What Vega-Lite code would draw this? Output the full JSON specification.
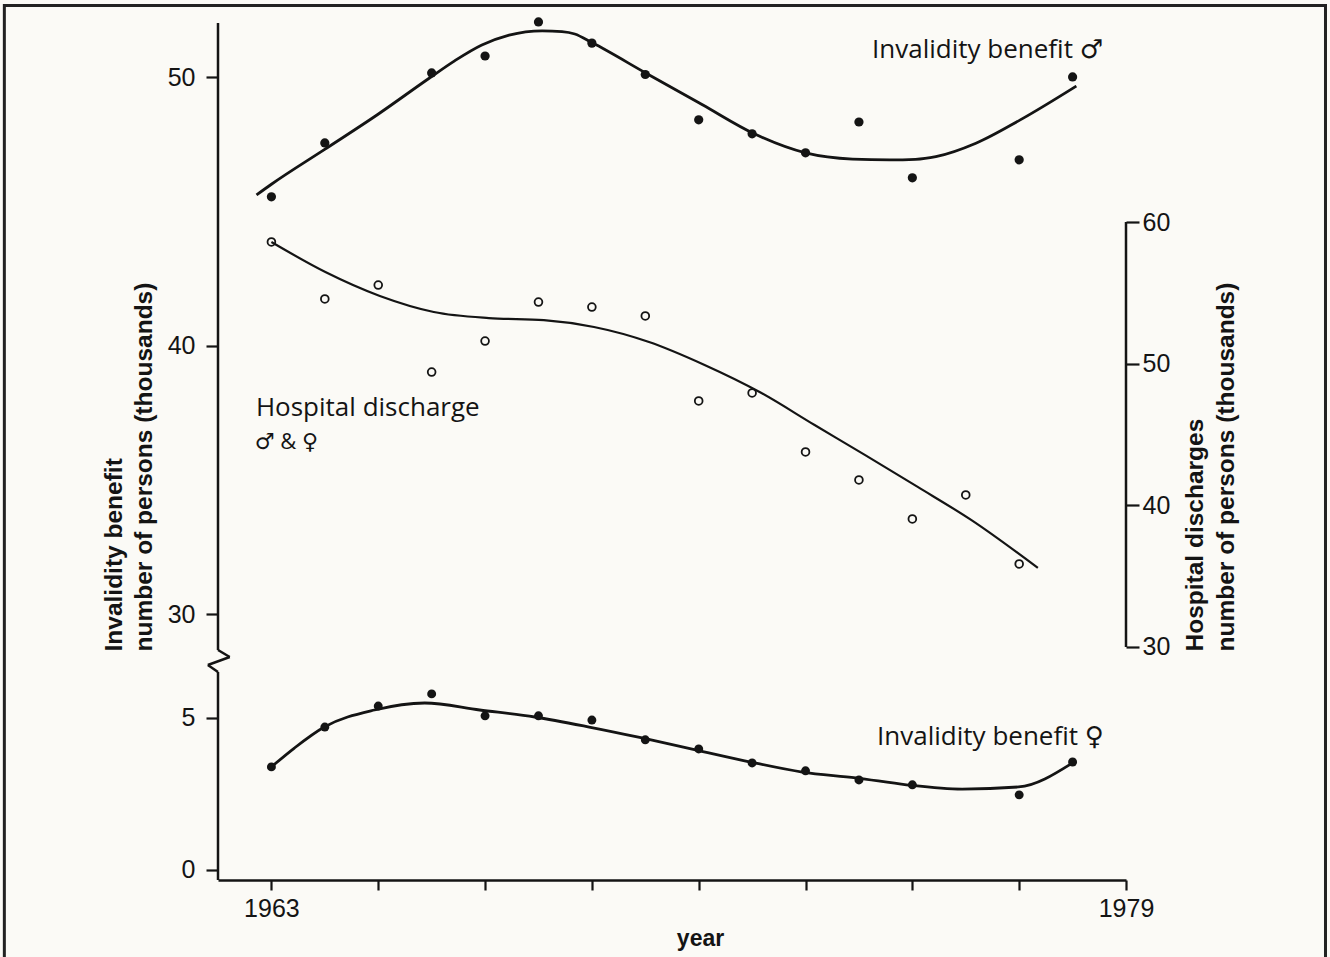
{
  "$schema": "https://vega.github.io/schema/vega-lite/v6.json",
  "width": 908,
  "height": 857,
  "autosize": {"type": "none"},
  "padding": {"left": 218, "top": 23, "right": 204, "bottom": 77},
  "background": "#fbfaf6",
  "config": {
    "view": {"stroke": null},
    "font": "Liberation Sans",
    "axis": {
      "grid": false,
      "domainColor": "#141414",
      "tickColor": "#141414",
      "labelColor": "#141414",
      "titleColor": "#141414",
      "labelFont": "Liberation Sans",
      "titleFont": "Liberation Sans",
      "labelFontSize": 25,
      "titleFontSize": 24.5,
      "titleFontWeight": "bold",
      "domainWidth": 2.5,
      "tickWidth": 2.2
    }
  },
  "datasets": {
    "male_pts": [
      {"year": 1963, "value": 45.55}, {"year": 1964, "value": 47.56}, {"year": 1966, "value": 50.17},
      {"year": 1967, "value": 50.80}, {"year": 1968, "value": 52.07}, {"year": 1969, "value": 51.28},
      {"year": 1970, "value": 50.11}, {"year": 1971, "value": 48.42}, {"year": 1972, "value": 47.90},
      {"year": 1973, "value": 47.19}, {"year": 1974, "value": 48.34}, {"year": 1975, "value": 46.26},
      {"year": 1977, "value": 46.93}, {"year": 1978, "value": 50.02}
    ],
    "male_curve": [
      {"year": 1962.72, "value": 45.62}, {"year": 1963.0, "value": 46.02}, {"year": 1963.99, "value": 47.31},
      {"year": 1964.99, "value": 48.62}, {"year": 1965.96, "value": 49.98}, {"year": 1966.43, "value": 50.62},
      {"year": 1966.94, "value": 51.21}, {"year": 1967.45, "value": 51.58}, {"year": 1968.07, "value": 51.74},
      {"year": 1968.44, "value": 51.71}, {"year": 1968.68, "value": 51.62}, {"year": 1969.0, "value": 51.30},
      {"year": 1970.04, "value": 50.13}, {"year": 1971.07, "value": 48.98}, {"year": 1972.04, "value": 47.90},
      {"year": 1973.0, "value": 47.19}, {"year": 1973.88, "value": 46.96}, {"year": 1974.58, "value": 46.93},
      {"year": 1975.06, "value": 46.95}, {"year": 1975.44, "value": 47.05}, {"year": 1976.19, "value": 47.55},
      {"year": 1977.02, "value": 48.42}, {"year": 1978.07, "value": 49.68}
    ],
    "female_pts": [
      {"year": 1963, "value": 3.39}, {"year": 1964, "value": 4.70}, {"year": 1965, "value": 5.39},
      {"year": 1966, "value": 5.79}, {"year": 1967, "value": 5.07}, {"year": 1968, "value": 5.07},
      {"year": 1969, "value": 4.93}, {"year": 1970, "value": 4.28}, {"year": 1971, "value": 3.98},
      {"year": 1972, "value": 3.52}, {"year": 1973, "value": 3.26}, {"year": 1974, "value": 2.96},
      {"year": 1975, "value": 2.80}, {"year": 1977, "value": 2.47}, {"year": 1978, "value": 3.55}
    ],
    "female_curve": [
      {"year": 1963.0, "value": 3.39}, {"year": 1963.43, "value": 4.01}, {"year": 1963.99, "value": 4.70},
      {"year": 1964.93, "value": 5.26}, {"year": 1965.87, "value": 5.49}, {"year": 1966.90, "value": 5.26},
      {"year": 1967.93, "value": 5.03}, {"year": 1968.95, "value": 4.70}, {"year": 1969.94, "value": 4.34},
      {"year": 1970.94, "value": 3.95}, {"year": 1971.97, "value": 3.55}, {"year": 1972.94, "value": 3.22},
      {"year": 1973.94, "value": 3.03}, {"year": 1974.89, "value": 2.80}, {"year": 1975.93, "value": 2.66},
      {"year": 1976.99, "value": 2.73}, {"year": 1977.97, "value": 3.49}
    ],
    "hosp_pts": [
      {"year": 1963, "value": 58.59}, {"year": 1964, "value": 54.57}, {"year": 1965, "value": 55.55},
      {"year": 1966, "value": 49.41}, {"year": 1967, "value": 51.60}, {"year": 1968, "value": 54.35},
      {"year": 1969, "value": 54.0}, {"year": 1970, "value": 53.37}, {"year": 1971, "value": 47.37},
      {"year": 1972, "value": 47.93}, {"year": 1973, "value": 43.77}, {"year": 1974, "value": 41.79},
      {"year": 1975, "value": 39.04}, {"year": 1976, "value": 40.73}, {"year": 1977, "value": 35.86}
    ],
    "hosp_curve": [
      {"year": 1963.0, "value": 58.59}, {"year": 1964.01, "value": 56.47}, {"year": 1965.03, "value": 54.78},
      {"year": 1966.04, "value": 53.65}, {"year": 1967.07, "value": 53.22}, {"year": 1968.10, "value": 53.08},
      {"year": 1969.04, "value": 52.59}, {"year": 1970.07, "value": 51.53}, {"year": 1971.11, "value": 49.91},
      {"year": 1972.14, "value": 48.0}, {"year": 1973.17, "value": 45.67}, {"year": 1974.11, "value": 43.56},
      {"year": 1975.10, "value": 41.3}, {"year": 1976.10, "value": 38.97}, {"year": 1977.35, "value": 35.58}
    ]
  },
  "resolve": {"scale": {"y": "independent"}},
  "layer": [
    {
      "layer": [
        {
          "data": {"name": "male_curve"},
          "mark": {"type": "line", "interpolate": "monotone", "color": "#141414", "strokeWidth": 2.8},
          "encoding": {
            "x": {"field": "year", "type": "quantitative",
              "scale": {"domain": [1962, 1979], "nice": false, "zero": false},
              "axis": {"orient": "bottom", "values": [1963, 1965, 1967, 1969, 1971, 1973, 1975, 1977, 1979], "format": "d",
                "labelExpr": "datum.value == 1963 || datum.value == 1979 ? datum.label : ''",
                "tickSize": 10, "labelPadding": 6, "labelFlush": false, "labelOverlap": false,
                "title": "year", "titleX": 482, "titleY": 65, "titleAlign": "center", "titleBaseline": "alphabetic", "titleFontSize": 23}},
            "y": {"field": "value", "type": "quantitative",
              "scale": {"domain": [-0.33, 6.51, 28.66, 52.03], "range": [857, 649, 627, 0], "nice": false, "zero": false},
              "axis": {"orient": "left", "values": [0, 5, 30, 40, 50], "domain": false, "tickSize": 12, "labelPadding": 11, "labelOverlap": false,
                "title": ["Invalidity benefit", "number of persons (thousands)"],
                "titleAngle": 270, "titleAlign": "left", "titleBaseline": "alphabetic", "titleX": -97, "titleY": 628, "titleLineHeight": 30}}
          }
        },
        {
          "data": {"name": "male_pts"},
          "mark": {"type": "point", "filled": true, "color": "#141414", "size": 85, "opacity": 1},
          "encoding": {
            "x": {"field": "year", "type": "quantitative", "scale": {"domain": [1962, 1979], "nice": false, "zero": false}},
            "y": {"field": "value", "type": "quantitative", "scale": {"domain": [-0.33, 6.51, 28.66, 52.03], "range": [857, 649, 627, 0], "nice": false, "zero": false}}
          }
        },
        {
          "data": {"name": "female_curve"},
          "mark": {"type": "line", "interpolate": "monotone", "color": "#141414", "strokeWidth": 2.8},
          "encoding": {
            "x": {"field": "year", "type": "quantitative", "scale": {"domain": [1962, 1979], "nice": false, "zero": false}},
            "y": {"field": "value", "type": "quantitative", "scale": {"domain": [-0.33, 6.51, 28.66, 52.03], "range": [857, 649, 627, 0], "nice": false, "zero": false}}
          }
        },
        {
          "data": {"name": "female_pts"},
          "mark": {"type": "point", "filled": true, "color": "#141414", "size": 80, "opacity": 1},
          "encoding": {
            "x": {"field": "year", "type": "quantitative", "scale": {"domain": [1962, 1979], "nice": false, "zero": false}},
            "y": {"field": "value", "type": "quantitative", "scale": {"domain": [-0.33, 6.51, 28.66, 52.03], "range": [857, 649, 627, 0], "nice": false, "zero": false}}
          }
        },
        {
          "data": {"values": [{}]},
          "mark": {"type": "rule", "color": "#141414", "strokeWidth": 2.5},
          "encoding": {
            "x": {"datum": 1962, "type": "quantitative", "scale": {"domain": [1962, 1979], "nice": false, "zero": false}},
            "y": {"datum": 28.66, "type": "quantitative", "scale": {"domain": [-0.33, 6.51, 28.66, 52.03], "range": [857, 649, 627, 0], "nice": false, "zero": false}},
            "y2": {"datum": 52.03}
          }
        },
        {
          "data": {"values": [{}]},
          "mark": {"type": "rule", "color": "#141414", "strokeWidth": 2.5},
          "encoding": {
            "x": {"datum": 1962, "type": "quantitative", "scale": {"domain": [1962, 1979], "nice": false, "zero": false}},
            "y": {"datum": -0.33, "type": "quantitative", "scale": {"domain": [-0.33, 6.51, 28.66, 52.03], "range": [857, 649, 627, 0], "nice": false, "zero": false}},
            "y2": {"datum": 6.51}
          }
        },
        {
          "data": {"values": [{}]},
          "mark": {"type": "rule", "color": "#141414", "strokeWidth": 2.5},
          "encoding": {
            "x": {"datum": 1962, "type": "quantitative", "scale": {"domain": [1962, 1979], "nice": false, "zero": false}},
            "x2": {"datum": 1962.22},
            "y": {"datum": 28.66, "type": "quantitative", "scale": {"domain": [-0.33, 6.51, 28.66, 52.03], "range": [857, 649, 627, 0], "nice": false, "zero": false}},
            "y2": {"datum": 21.61}
          }
        },
        {
          "data": {"values": [{}]},
          "mark": {"type": "rule", "color": "#141414", "strokeWidth": 2.5},
          "encoding": {
            "x": {"datum": 1962.22, "type": "quantitative", "scale": {"domain": [1962, 1979], "nice": false, "zero": false}},
            "x2": {"datum": 1961.81},
            "y": {"datum": 21.61, "type": "quantitative", "scale": {"domain": [-0.33, 6.51, 28.66, 52.03], "range": [857, 649, 627, 0], "nice": false, "zero": false}},
            "y2": {"datum": 13.56}
          }
        },
        {
          "data": {"values": [{}]},
          "mark": {"type": "rule", "color": "#141414", "strokeWidth": 2.5},
          "encoding": {
            "x": {"datum": 1961.81, "type": "quantitative", "scale": {"domain": [1962, 1979], "nice": false, "zero": false}},
            "x2": {"datum": 1962},
            "y": {"datum": 13.56, "type": "quantitative", "scale": {"domain": [-0.33, 6.51, 28.66, 52.03], "range": [857, 649, 627, 0], "nice": false, "zero": false}},
            "y2": {"datum": 6.51}
          }
        },
        {
          "data": {"values": [{}]},
          "mark": {"type": "rect", "fill": null, "stroke": "#222222", "strokeWidth": 3},
          "encoding": {
            "x": {"datum": 1958.0, "type": "quantitative", "scale": {"domain": [1962, 1979], "nice": false, "zero": false}},
            "x2": {"datum": 1982.735},
            "y": {"datum": 52.68, "type": "quantitative", "scale": {"domain": [-0.33, 6.51, 28.66, 52.03], "range": [857, 649, 627, 0], "nice": false, "zero": false}},
            "y2": {"datum": -3.5}
          }
        },
        {
          "data": {"values": [{}]},
          "mark": {"type": "text", "align": "left", "baseline": "alphabetic", "font": "Open Sans, DejaVu Sans", "fontSize": 26, "color": "#141414"},
          "encoding": {
            "x": {"datum": 1974.245, "type": "quantitative", "scale": {"domain": [1962, 1979], "nice": false, "zero": false}},
            "y": {"datum": 50.73, "type": "quantitative", "scale": {"domain": [-0.33, 6.51, 28.66, 52.03], "range": [857, 649, 627, 0], "nice": false, "zero": false}},
            "text": {"value": "Invalidity benefit ♂"}
          }
        },
        {
          "data": {"values": [{}]},
          "mark": {"type": "text", "align": "left", "baseline": "alphabetic", "font": "Open Sans, DejaVu Sans", "fontSize": 26, "color": "#141414"},
          "encoding": {
            "x": {"datum": 1962.71, "type": "quantitative", "scale": {"domain": [1962, 1979], "nice": false, "zero": false}},
            "y": {"datum": 37.39, "type": "quantitative", "scale": {"domain": [-0.33, 6.51, 28.66, 52.03], "range": [857, 649, 627, 0], "nice": false, "zero": false}},
            "text": {"value": "Hospital discharge"}
          }
        },
        {
          "data": {"values": [{}]},
          "mark": {"type": "text", "align": "left", "baseline": "alphabetic", "font": "Open Sans, DejaVu Sans", "fontSize": 22, "color": "#141414"},
          "encoding": {
            "x": {"datum": 1962.69, "type": "quantitative", "scale": {"domain": [1962, 1979], "nice": false, "zero": false}},
            "y": {"datum": 36.17, "type": "quantitative", "scale": {"domain": [-0.33, 6.51, 28.66, 52.03], "range": [857, 649, 627, 0], "nice": false, "zero": false}},
            "text": {"value": "♂ & ♀"}
          }
        },
        {
          "data": {"values": [{}]},
          "mark": {"type": "text", "align": "left", "baseline": "alphabetic", "font": "Open Sans, DejaVu Sans", "fontSize": 26, "color": "#141414"},
          "encoding": {
            "x": {"datum": 1974.34, "type": "quantitative", "scale": {"domain": [1962, 1979], "nice": false, "zero": false}},
            "y": {"datum": 4.11, "type": "quantitative", "scale": {"domain": [-0.33, 6.51, 28.66, 52.03], "range": [857, 649, 627, 0], "nice": false, "zero": false}},
            "text": {"value": "Invalidity benefit ♀"}
          }
        }
      ]
    },
    {
      "layer": [
        {
          "data": {"name": "hosp_curve"},
          "mark": {"type": "line", "interpolate": "monotone", "color": "#141414", "strokeWidth": 2.2},
          "encoding": {
            "x": {"field": "year", "type": "quantitative", "scale": {"domain": [1962, 1979], "nice": false, "zero": false}},
            "y": {"field": "value", "type": "quantitative",
              "scale": {"domain": [13.55, 74.05], "nice": false, "zero": false},
              "axis": {"orient": "right", "values": [30, 40, 50, 60], "domain": false, "tickSize": 13, "labelPadding": 3, "labelOverlap": false,
                "title": ["Hospital discharges", "number of persons (thousands)"],
                "titleAngle": 270, "titleAlign": "left", "titleBaseline": "alphabetic", "titleX": 76, "titleY": 628, "titleLineHeight": 31}}
          }
        },
        {
          "data": {"name": "hosp_pts"},
          "mark": {"type": "point", "filled": false, "color": "#141414", "size": 60, "strokeWidth": 1.8, "opacity": 1},
          "encoding": {
            "x": {"field": "year", "type": "quantitative", "scale": {"domain": [1962, 1979], "nice": false, "zero": false}},
            "y": {"field": "value", "type": "quantitative", "scale": {"domain": [13.55, 74.05], "nice": false, "zero": false}}
          }
        },
        {
          "data": {"values": [{}]},
          "mark": {"type": "rule", "color": "#141414", "strokeWidth": 2.5},
          "encoding": {
            "x": {"datum": 1979, "type": "quantitative", "scale": {"domain": [1962, 1979], "nice": false, "zero": false}},
            "y": {"datum": 30, "type": "quantitative", "scale": {"domain": [13.55, 74.05], "nice": false, "zero": false}},
            "y2": {"datum": 60}
          }
        }
      ]
    }
  ]
}
